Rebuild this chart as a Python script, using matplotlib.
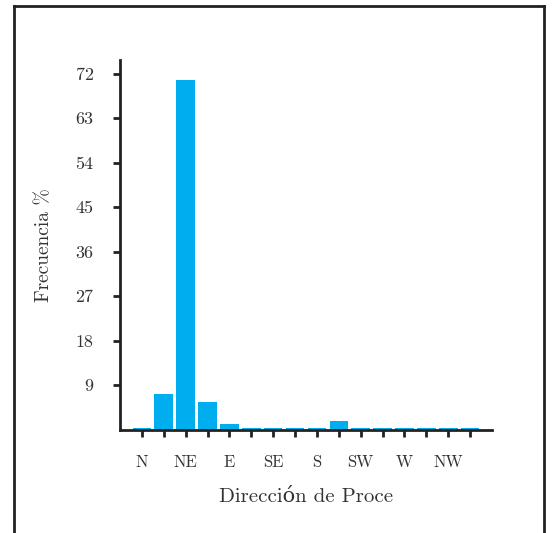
import matplotlib
matplotlib.use("Agg")
import matplotlib.pyplot as plt
from matplotlib.lines import Line2D

directions = ["N", "NNE", "NE", "ENE", "E", "ESE", "SE", "SSE",
              "S", "SSW", "SW", "WSW", "W", "WNW", "NW", "NNW"]
freq = [0.4, 7.2, 70.7, 5.6, 1.2, 0.4, 0.4, 0.4,
        0.4, 1.8, 0.4, 0.4, 0.4, 0.4, 0.4, 0.4]
xtick_labels = ["N", "", "NE", "", "E", "", "SE", "",
                "S", "", "SW", "", "W", "", "NW", ""]
ytick_values = [9, 18, 27, 36, 45, 54, 63, 72]
ytick_labels = ["9", "18", "27", "36", "45", "54", "63", "72"]

plt.rcParams['font.family'] = ['cmr10', 'DejaVu Serif']
plt.rcParams['axes.formatter.use_mathtext'] = True

W, H = 552, 533
fig = plt.figure(figsize=(W / 100, H / 100), dpi=100)
ax = fig.add_axes([120 / W, 1 - 429.5 / H, (492 - 120) / W, (429.5 - 60) / H])

text_color = "#333333"
ax.bar(range(len(directions)), freq, width=0.85, color="#00AEEF", zorder=2)
ax.set_xlim(-1, 16)
ax.set_ylim(0, 74.8)
ax.set_xticks(range(len(directions)))
ax.set_xticklabels(xtick_labels, fontsize=12, color=text_color)
ax.set_yticks(ytick_values)
ax.set_yticklabels(ytick_labels, fontsize=13, color=text_color)

for s in ["top", "right"]:
    ax.spines[s].set_visible(False)
for s in ["left", "bottom"]:
    ax.spines[s].set_linewidth(2)
    ax.spines[s].set_color("#222222")
    ax.spines[s].set_zorder(3)
ax.tick_params(axis="y", direction="out", length=5, width=2, color="#222222", pad=14)
ax.tick_params(axis="x", direction="out", length=5, width=2, color="#222222", pad=13)

ax.set_xlabel("Dirección de Proce", fontsize=15, color=text_color, labelpad=13)
ax.set_ylabel("Frecuencia %", fontsize=14, color=text_color, labelpad=16)

# figure frame (open at bottom)
lc = "#222222"
fig.add_artist(Line2D([14 / W, 14 / W], [-0.05, 1 - 6 / H], transform=fig.transFigure, color=lc, lw=2))
fig.add_artist(Line2D([14 / W, 544 / W], [1 - 6 / H, 1 - 6 / H], transform=fig.transFigure, color=lc, lw=2))
fig.add_artist(Line2D([544 / W, 544 / W], [-0.05, 1 - 6 / H], transform=fig.transFigure, color=lc, lw=2))

fig.savefig("out.png", dpi=100)
